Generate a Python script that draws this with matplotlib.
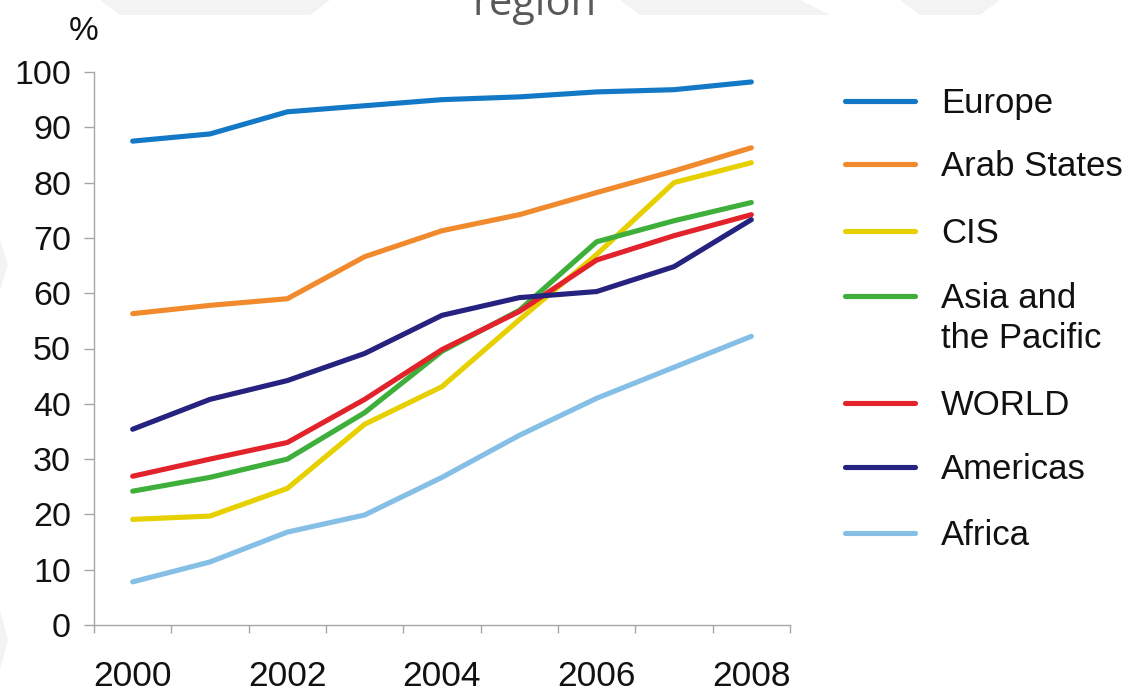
import numpy as np
import matplotlib
matplotlib.use("Agg")
import matplotlib.pyplot as plt
from matplotlib.lines import Line2D
from matplotlib.patches import Polygon

plt.rcParams['font.family'] = ['Liberation Sans', 'DejaVu Sans']

# ---------------- data ----------------
years = [2000, 2001, 2002, 2003, 2004, 2005, 2006, 2007, 2008]
year_labels = ['2000', '2002', '2004', '2006', '2008']
series_names = ['Europe', 'Arab States', 'CIS', 'Asia and\nthe Pacific', 'WORLD', 'Americas', 'Africa']

europe = [87.5, 88.8, 92.8, 93.9, 95.0, 95.5, 96.4, 96.8, 98.2]
arab_states = [56.3, 57.8, 59.0, 66.6, 71.3, 74.2, 78.2, 82.1, 86.3]
cis = [19.1, 19.7, 24.7, 36.3, 43.1, 55.2, 67.0, 80.0, 83.6]
asia_pacific = [24.2, 26.7, 30.0, 38.4, 49.5, 56.9, 69.3, 73.1, 76.4]
world = [26.9, 30.0, 33.0, 40.8, 49.8, 56.7, 66.0, 70.4, 74.2]
americas = [35.4, 40.8, 44.2, 49.1, 56.0, 59.2, 60.3, 64.8, 73.3]
africa = [7.8, 11.4, 16.8, 19.9, 26.7, 34.3, 41.0, 46.6, 52.2]

series_values = [europe, arab_states, cis, asia_pacific, world, americas, africa]
colors = ['#1379c6', '#f08a2c', '#e6d000', '#3daf3a', '#e2232b', '#25237f', '#86bfe6']

# ---------------- figure ----------------
W, H = 1136, 694
fig = plt.figure(figsize=(W / 100, H / 100), dpi=100)
fig.patch.set_facecolor('white')


def fx(x):
    return x / W


def fy(y):
    return 1 - y / H


# faint watermark shapes
wm = '#f3f3f3'
for pts in [
    [(100, 0), (330, 0), (310, 15), (120, 15)],
    [(620, 0), (800, 0), (830, 15), (640, 15)],
    [(900, 0), (1000, 0), (980, 15), (920, 15)],
    [(0, 240), (8, 265), (0, 290)],
    [(0, 610), (8, 640), (0, 670)],
]:
    fig.patches.append(Polygon([(fx(a), fy(b)) for a, b in pts], closed=True,
                               transform=fig.transFigure, facecolor=wm,
                               edgecolor='none', zorder=0))

ax = fig.add_axes([fx(94), fy(625), (790 - 94) / W, (625 - 72) / H])
ax.set_facecolor('none')

x = np.arange(len(years))
for vals, col, name in zip(series_values, colors, series_names):
    ax.plot(x, vals, color=col, lw=3.7, solid_capstyle='round',
            solid_joinstyle='round', label=name)

ax.set_xlim(-0.5, len(years) - 0.5)
ax.set_ylim(0, 100)
ax.set_yticks(np.arange(0, 101, 10))
ax.tick_params(axis='y', which='major', length=7.5, width=1, color='#a6a6a6',
               labelsize=24.5, pad=9, labelcolor='#111111')

# category-boundary tick marks, labels every other year
ax.set_xticks(np.arange(-0.5, len(years), 1))
ax.set_xticklabels([])
ax.tick_params(axis='x', which='major', length=6, width=1, color='#a6a6a6')
label_pos = [years.index(int(y)) for y in year_labels]
ax.set_xticks(label_pos, minor=True)
ax.set_xticklabels(year_labels, minor=True)
ax.tick_params(axis='x', which='minor', length=0, labelsize=25.5, pad=25,
               labelcolor='#111111')

for s in ['top', 'right']:
    ax.spines[s].set_visible(False)
for s in ['left', 'bottom']:
    ax.spines[s].set_color('#a6a6a6')
    ax.spines[s].set_linewidth(1)

# "%" unit label
fig.text(fx(84), fy(31), '%', ha='center', va='center', fontsize=24,
         color='#111111')

# partial title
fig.text(fx(535), fy(15), 'region', ha='center', va='baseline', fontsize=30,
         color='#595959', family=['Open Sans', 'DejaVu Sans'])

# manual legend
leg_y = [101, 164, 231, 296, 403, 467, 533]
line_gap = 40
for name, col, yy in zip(series_names, colors, leg_y):
    fig.add_artist(Line2D([fx(845), fx(915)], [fy(yy), fy(yy)], color=col,
                          lw=3.7, solid_capstyle='round',
                          transform=fig.transFigure))
    for k, part in enumerate(name.split('\n')):
        fig.text(fx(941), fy(yy + 12 + k * line_gap), part, ha='left',
                 va='baseline', fontsize=25, color='#111111')

fig.savefig('out.png', dpi=100)
